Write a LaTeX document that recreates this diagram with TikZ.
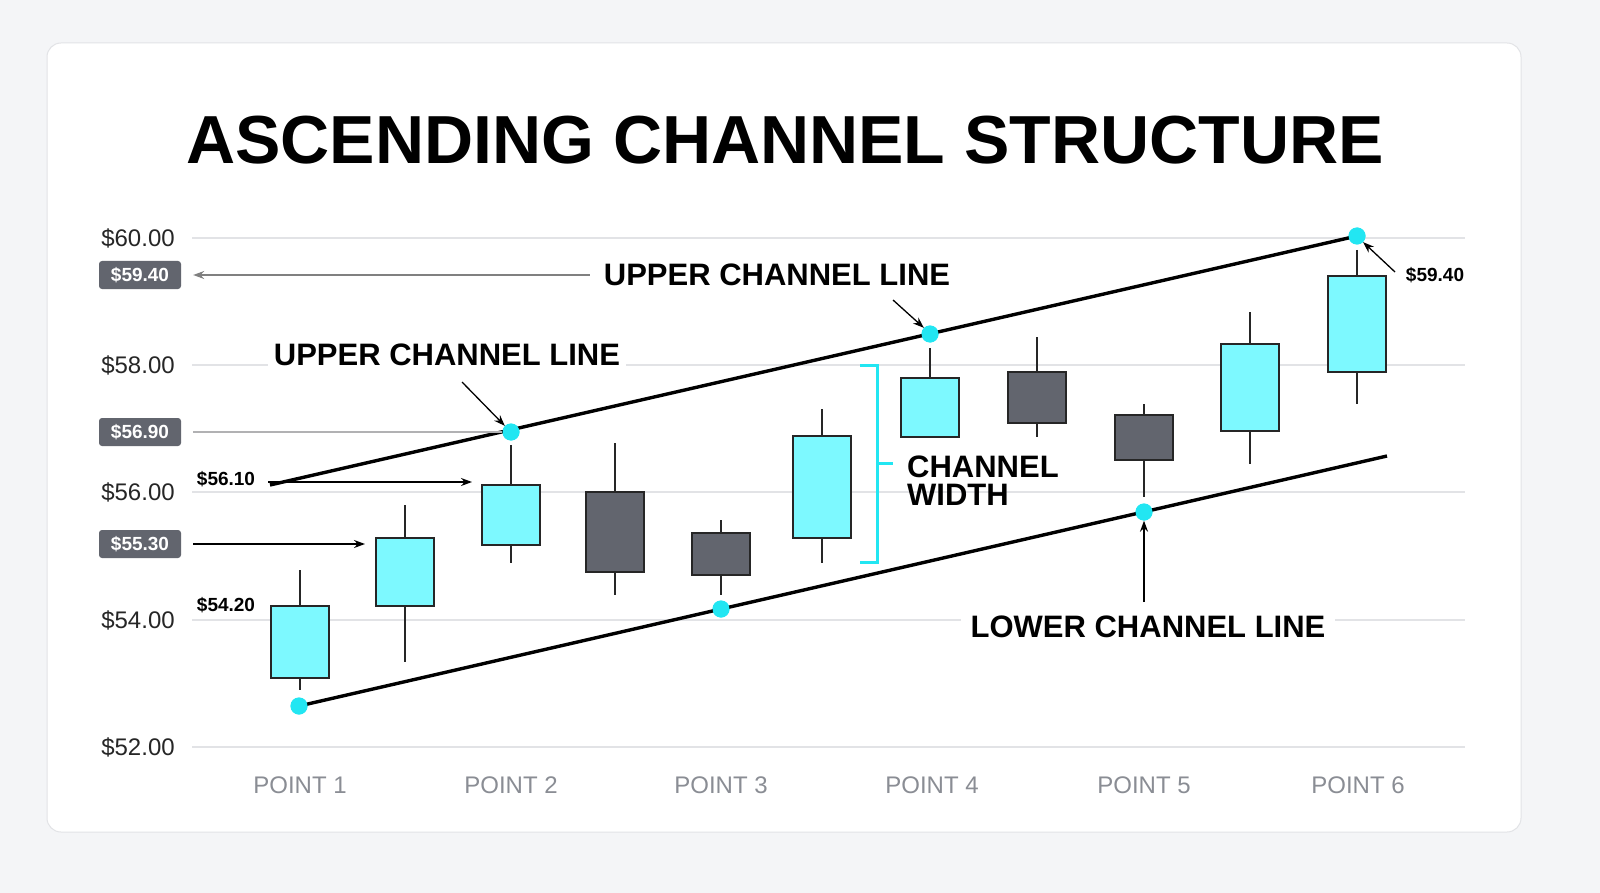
\documentclass[tikz,border=0pt]{standalone}
\usepackage{fontspec}
\setmainfont{Liberation Sans}
\usetikzlibrary{arrows.meta}
\definecolor{bg}{HTML}{F4F5F7}
\definecolor{cy}{HTML}{7DF9FF}
\definecolor{dot}{HTML}{22E6F2}
\definecolor{gr}{HTML}{62656E}
\definecolor{grid}{HTML}{E2E3E6}
\definecolor{lab}{HTML}{8A8D94}
\begin{document}
\begin{tikzpicture}[x=1pt,y=-1pt,
 candle/.style={draw=black!85,line width=1.8pt},
 dotn/.style={circle,fill=dot,inner sep=0pt,minimum size=17pt},
 badge/.style={fill=gr,rounded corners=3pt,text=white,font=\bfseries\fontsize{19}{19}\selectfont,minimum width=82pt,minimum height=28pt,inner sep=0pt},
 ax/.style={font=\fontsize{24}{24}\selectfont,text=black!85},
 big/.style={font=\bfseries\fontsize{31}{31}\selectfont,fill=white,inner sep=6pt},
 small/.style={font=\bfseries\fontsize{19}{19}\selectfont},
 pt/.style={font=\fontsize{24}{24}\selectfont,text=lab},
 arr/.style={-{Stealth[length=11pt,width=8pt]},line width=1.3pt}]
\useasboundingbox (0,0) rectangle (1600,893);
\fill[bg] (0,0) rectangle (1600,893);
\draw[grid,fill=white,line width=1pt,rounded corners=14pt] (47,43) rectangle (1521,832);
\node[font=\bfseries\fontsize{68}{68}\selectfont] (title) at (785,140) {ASCENDING CHANNEL STRUCTURE};
% grid
\foreach \y/\t in {238/60.00,365/58.00,492/56.00,620/54.00,747/52.00}{
 \draw[grid,line width=1.2pt] (192,\y) -- (1465,\y);
 \node[ax,anchor=center] at (138,\y) {\$\t};}
% badges
\node[badge] (b1) at (140,275) {\$59.40};
\node[badge] (b2) at (140,432) {\$56.90};
\node[badge] (b3) at (140,544) {\$55.30};
% dots
\node[dotn] (d1) at (299,706) {};
\node[dotn] (d2) at (511,432) {};
\node[dotn] (d3) at (721,609) {};
\node[dotn] (d4) at (930,334) {};
\node[dotn] (d5) at (1144,512) {};
\node[dotn] (d6) at (1357,236) {};
\coordinate (u0) at (270,485); \coordinate (l1) at (1387,456);
% candles
\foreach \x/\wt/\bt/\bb/\wb/\c in {300/570/606/678/690/cy,405/505/538/606/662/cy,511/445/485/545/563/cy,615/443/492/572/595/gr,721/520/533/575/595/gr,822/409/436/538/563/cy,930/348/378/437/437/cy,1037/337/372/423/437/gr,1144/404/415/460/497/gr,1250/312/344/431/464/cy,1357/250/276/372/404/cy}{
 \draw[candle] (\x,\wt) -- (\x,\wb);
 \draw[candle,fill=\c] (\x-29,\bt) rectangle (\x+29,\bb);}
% channel lines
\draw[line width=3.4pt] (u0) -- (d6.center);
\draw[line width=3.4pt] (d1.center) -- (l1);
\foreach \d in {d1,d2,d3,d4,d5,d6} \node[dotn] at (\d) {};
% labels and arrows
\draw[grid!50!gray,line width=1.3pt] (b2.east)++(12,0) -- (d2.west);
\node[big,inner sep=14pt] (uc1) at (777,275) {UPPER CHANNEL LINE};
\draw[arr,gray] (uc1.west) -- ([xshift=12pt]b1.east);
\draw[arr] (893,300) -- (d4.north west);
\node[big] (uc2) at (447,355) {UPPER CHANNEL LINE};
\draw[arr] (462,382) -- (d2.north west);
\node[small] (p561) at (226,479) {\$56.10};
\draw[arr] (268,482) -- (472,482);
\draw[arr] ([xshift=12pt]b3.east) -- (365,544);
\node[small] at (226,605) {\$54.20};
\node[small] (p594) at (1435,275) {\$59.40};
\draw[arr] (1395,272) -- (d6.south east);
\draw[dot,line width=3pt] (860,365) -- (877,365) -- (877,562) -- (860,562);
\draw[dot,line width=3pt] (877,463) -- (893,463);
\node[font=\bfseries\fontsize{31}{31}\selectfont,anchor=west,align=left,inner sep=0pt] (cw) at (907,481) {CHANNEL\\[-3pt]WIDTH};
\node[big,inner sep=10pt] (lc) at (1148,627) {LOWER CHANNEL LINE};
\draw[arr] (1144,602) -- (d5.south);
\foreach \x/\n in {300/1,511/2,721/3,932/4,1144/5,1358/6}
 \node[pt] at (\x,785) {POINT \n};
\end{tikzpicture}
\end{document}
